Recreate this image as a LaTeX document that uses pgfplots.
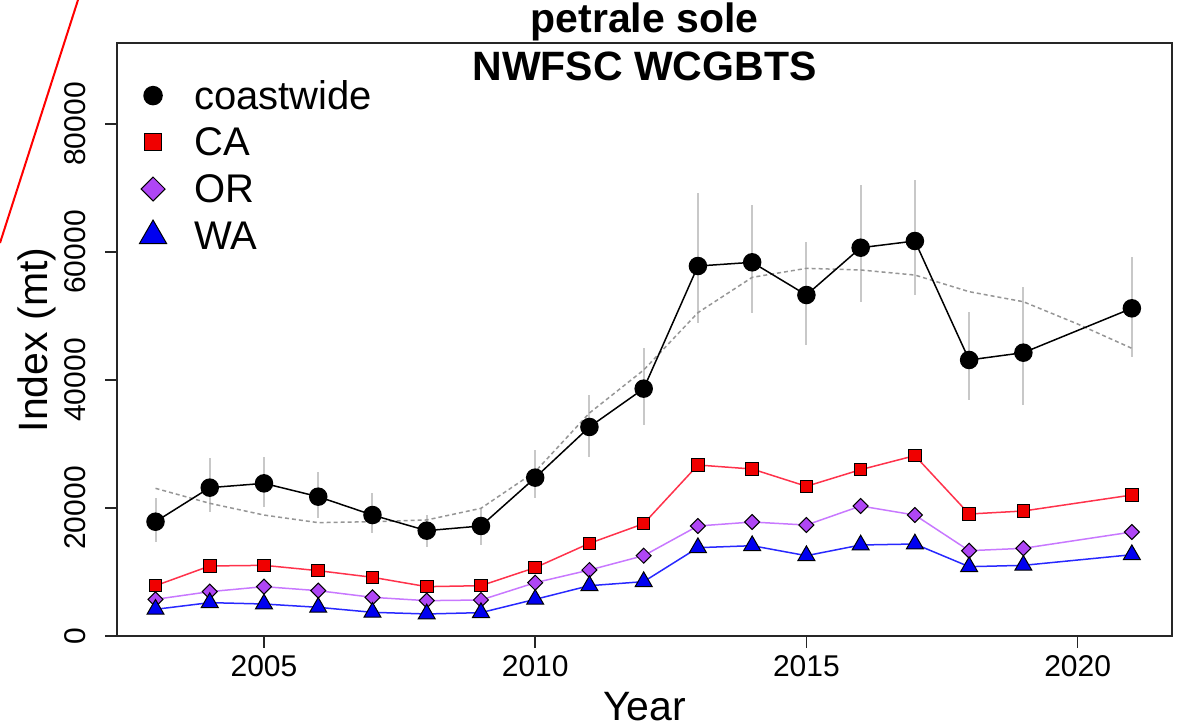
\documentclass[border=0pt]{standalone}
\usepackage{fontspec}
\setmainfont{Liberation Sans}
\usepackage{pgfplots}
\pgfplotsset{compat=1.18}
\usepackage{pgfplotstable}

\definecolor{cigrey}{RGB}{200,200,200}
\definecolor{fitgrey}{RGB}{150,150,150}
\definecolor{caline}{RGB}{255,50,75}
\definecolor{cafill}{RGB}{240,0,0}
\definecolor{orline}{RGB}{200,120,255}
\definecolor{orfill}{RGB}{175,70,245}
\definecolor{waline}{RGB}{40,40,255}
\definecolor{wafill}{RGB}{0,0,240}

% coastwide index with interval bounds
\pgfplotstableread{
year idx hi lo
2003 17860 21560 14700
2004 23180 27800 19400
2005 23850 28000 20200
2006 21770 25600 18400
2007 18900 22300 16100
2008 16460 18900 13900
2009 17190 20000 14200
2010 24740 29000 21500
2011 32660 37650 28000
2012 38650 45000 33000
2013 57810 69200 48900
2014 58390 67300 50500
2015 53280 61600 45500
2016 60670 70500 52200
2017 61720 71250 53300
2018 43130 50600 36900
2019 44270 54500 36100
2021 51200 59200 43600
}\coastwide

% fitted trend (dashed)
\pgfplotstableread{
year fit
2003 23070
2004 20730
2005 18900
2006 17710
2007 17860
2008 18130
2009 19950
2010 25680
2011 34840
2012 41560
2013 50520
2014 56040
2015 57450
2016 57190
2017 56400
2018 53800
2019 52230
2020 48750
2021 44950
}\fitted

\pgfplotstableread{
year ca or wa
2003 7860 5730 4170
2004 10940 6930 5210
2005 11040 7710 5000
2006 10210 7080 4480
2007 9170 6040 3700
2008 7710 5520 3440
2009 7860 5625 3650
2010 10680 8330 5730
2011 14480 10310 7860
2012 17550 12550 8490
2013 26720 17190 13800
2014 26090 17810 14110
2015 23390 17340 12550
2016 25990 20310 14220
2017 28180 18900 14375
2018 19060 13330 10830
2019 19530 13700 11040
2021 22030 16250 12700
}\states

\begin{document}
\begin{tikzpicture}
\useasboundingbox (-58.5pt,-46pt) rectangle (531pt,318pt);
\begin{axis}[
    name=ax,
    scale only axis,
    width=527.5pt, height=296.5pt,
    xmin=2002.29, xmax=2021.74,
    ymin=0, ymax=92660,
    axis line style={line width=0.8pt, black!85},
    xtick={2005,2010,2015,2020},
    xticklabels={2005,2010,2015,2020},
    ytick={0,20000,40000,60000,80000},
    yticklabels={0,20000,40000,60000,80000},
    scaled y ticks=false,
    tick align=outside,
    major tick length=6pt,
    xtick pos=lower, ytick pos=left,
    tick style={line width=0.8pt, black!85},
    ticklabel style={font=\fontsize{15}{15}\selectfont},
    yticklabel style={rotate=90, anchor=south},
    yticklabel shift=6pt,
    /pgf/number format/assume math mode=true,
    legend cell align=left,
    legend style={
        at={(axis description cs:0.0213,0.9443)}, anchor=north west,
        draw=none, fill=none, inner sep=0pt, outer sep=0pt,
        row sep=3.75pt,
        font=\fontsize{20}{20}\selectfont,
        nodes={inner sep=0pt, text height=16.6pt, text depth=3pt},
        /tikz/every odd column/.append style={column sep=13.75pt},
    },
    legend image code/.code={\draw[#1,only marks] plot coordinates {(0pt,0pt)};},
]
% interval bars
\addplot[draw=none, mark=none, forget plot,
    error bars/.cd, y dir=both, y explicit, error mark=none,
    error bar style={draw=cigrey, line width=1pt}]
    table[x=year, y=idx,
          y error plus expr=\thisrow{hi}-\thisrow{idx},
          y error minus expr=\thisrow{idx}-\thisrow{lo}] {\coastwide};
% fitted trend
\addplot[fitgrey, line width=0.75pt, dash pattern=on 2pt off 1.5pt, mark=none, forget plot]
    table[x=year, y=fit] {\fitted};

\addplot[black, line width=0.75pt, mark=*, mark size=4.25pt,
    mark options={fill=black, draw=black, solid},
    legend image post style={every mark/.append style={scale=1.06}}]
    table[x=year, y=idx] {\coastwide};
\addlegendentry{coastwide}

\addplot[caline, line width=0.75pt, mark=square*, mark size=3.15pt,
    mark options={fill=cafill, draw=black, line width=0.5pt},
    legend image post style={every mark/.append style={scale=1.33}}]
    table[x=year, y=ca] {\states};
\addlegendentry{CA}

\addplot[orline, line width=0.75pt, mark=square*, mark size=2.65pt,
    mark options={rotate=45, fill=orfill, draw=black, line width=0.5pt},
    legend image post style={every mark/.append style={scale=1.6}}]
    table[x=year, y=or] {\states};
\addlegendentry{OR}

\addplot[waline, line width=0.75pt, mark=triangle*, mark size=4.9pt,
    mark options={fill=wafill, draw=black, line width=0.5pt},
    legend image post style={every mark/.append style={scale=1.6}}]
    table[x=year, y=wa] {\states};
\addlegendentry{WA}
\end{axis}

\node[font=\bfseries\fontsize{20.5}{20.5}\selectfont, anchor=base] at (263.75pt,301.5pt) {petrale sole};
\node[font=\bfseries\fontsize{20.5}{20.5}\selectfont, anchor=base] at (263.75pt,277.5pt) {NWFSC WCGBTS};
\node[font=\fontsize{20.5}{20.5}\selectfont, anchor=base] at (263.75pt,-42.5pt) {Year};
\node[font=\fontsize{20.5}{20.5}\selectfont, rotate=90, anchor=center] at (-40pt,148pt) {Index (mt)};
\draw[red, line width=1pt] (-19.5pt,318pt) -- (-58.5pt,196.5pt);
\end{tikzpicture}
\end{document}
